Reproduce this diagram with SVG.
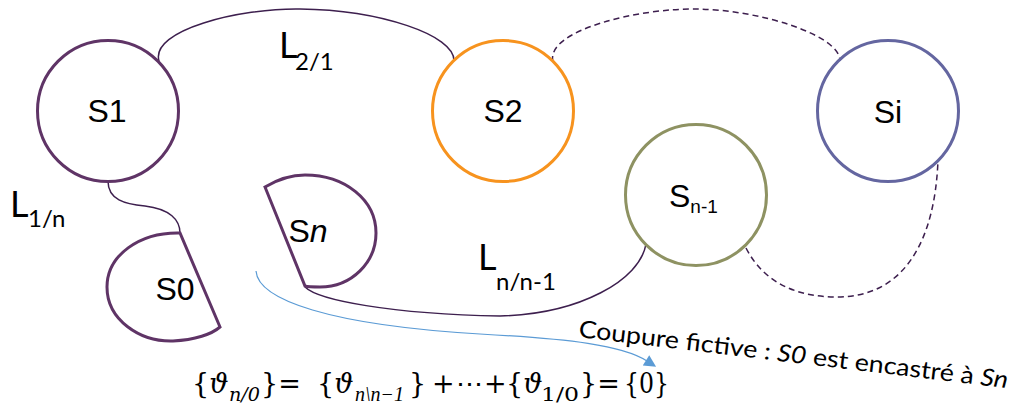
<svg xmlns="http://www.w3.org/2000/svg" width="1022" height="414" viewBox="0 0 1022 414">
<defs>
<style>
.node{fill:none;stroke-width:3}
.lbl{font-family:"Liberation Sans",Arial,sans-serif;font-size:32px;fill:#000}
.sub{font-size:19px}
.lk{font-family:Lato,"Open Sans",sans-serif;fill:#000}
.cap{font-family:Lato,"Open Sans",sans-serif;fill:#000}
.conn{fill:none;stroke:#3d1f4e;stroke-width:1.5}
.dash{stroke-dasharray:6 4}
.eq{font-family:"DejaVu Serif","Liberation Serif",serif;font-size:27px;fill:#000}
.es{font-size:19px}
.ls{font-family:"Liberation Serif","DejaVu Serif",serif;font-size:20px}
.it{font-style:italic}
</style>
<marker id="ah" viewBox="0 0 10 10" refX="1" refY="5" markerUnits="userSpaceOnUse" markerWidth="14" markerHeight="12" orient="auto">
<path d="M0,0 L10,5 L0,10 Z" fill="#5b9bd5"/>
</marker>
</defs>
<rect width="1022" height="414" fill="#fff"/>
<g id="connectors">
<path class="conn" d="M159 61 C150 30 240 8 300 9 C380 10 455 35 454 61"/>
<path class="conn dash" d="M553 62 C545 30 640 8 697 9 C760 10 840 35 840 61"/>
<path class="conn" d="M108 181 C108 200 125 204 145 206 C170 209 180 220 180 233"/>
<path class="conn" d="M305 287 C318 300 390 314 500 316 C580 314 640 280 646 244"/>
<path class="conn dash" d="M746 248 C765 285 800 297 837 297 C905 297 935 240 938 160"/>
<path fill="none" stroke="#5b9bd5" stroke-width="1.2" d="M256 271 C258 300 330 325 480 334 C570 339 622 345 647 361" marker-end="url(#ah)"/>
</g>
<g id="S1">
<circle class="node" cx="108" cy="111" r="70.5" stroke="#5f3466"/>
<text class="lbl" x="107" y="122" text-anchor="middle">S1</text>
</g>
<g id="S2">
<circle class="node" cx="503" cy="111" r="70.5" stroke="#f7931e"/>
<text class="lbl" x="503" y="122" text-anchor="middle">S2</text>
</g>
<g id="Si">
<circle class="node" cx="888" cy="111" r="70.5" stroke="#6466a0"/>
<text class="lbl" x="888" y="123" text-anchor="middle">Si</text>
</g>
<g id="Sn-1">
<circle class="node" cx="696" cy="195" r="70.5" stroke="#8e9262"/>
<text class="lbl" x="669" y="207">S<tspan class="sub" y="213">n-1</tspan></text>
</g>
<g id="S0">
<path class="node" stroke="#5f3466" d="M180 233 C140 232 107 255 107 287 C107 320 140 342 173 341 C195 340 212 334 220 327 Z"/>
<text class="lbl" x="175" y="300" text-anchor="middle">S0</text>
</g>
<g id="Sn">
<path class="node" stroke="#5f3466" d="M265 187 C280 178 292 175 305 175 C345 175 376 200 376 233 C376 262 352 287 320 287 C313 287 308 287 305 286 Z"/>
<text class="lbl" x="308" y="242" text-anchor="middle">S<tspan class="it">n</tspan></text>
</g>
<g id="labels">
<text class="lk" x="279" y="58" font-size="36">L<tspan x="295" y="70" font-size="24">2/1</tspan></text>
<text class="lk" x="10" y="217" font-size="36">L<tspan x="28" y="227" font-size="24">1/n</tspan></text>
<text class="lk" x="478" y="270" font-size="36">L<tspan x="496" y="290" font-size="24">n/n-1</tspan></text>
<text class="cap" x="578" y="337" font-size="24" textLength="432" lengthAdjust="spacingAndGlyphs" transform="rotate(6.8 578 337)">Coupure fictive : <tspan class="it">S0</tspan> est encastré à <tspan class="it">Sn</tspan></text>
</g>
<g id="equation">
<text class="eq" y="393"><tspan x="192">{<tspan class="it">ϑ</tspan></tspan><tspan class="it es" x="229" y="401" textLength="31" lengthAdjust="spacingAndGlyphs">n/0</tspan><tspan x="261" y="393">}=</tspan><tspan x="317">{<tspan class="it">ϑ</tspan></tspan><tspan class="it ls" x="355" y="401">n\n−1</tspan><tspan x="409" y="393">}</tspan><tspan x="432">+</tspan><tspan x="456">⋯</tspan><tspan x="484">+</tspan><tspan x="506">{<tspan class="it">ϑ</tspan></tspan><tspan class="es" x="541" y="401" textLength="38" lengthAdjust="spacingAndGlyphs">1/0</tspan><tspan x="580" y="393">}=</tspan><tspan x="624" textLength="45" lengthAdjust="spacingAndGlyphs">{0}</tspan></text>
</g>
</svg>
